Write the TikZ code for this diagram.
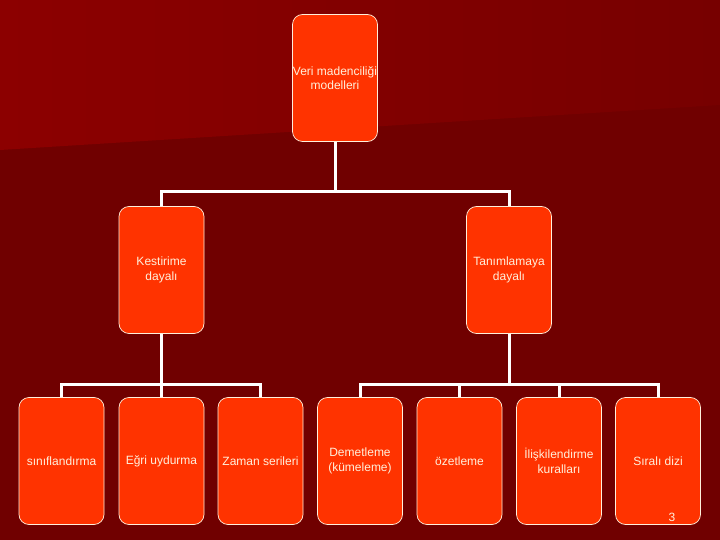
\documentclass[tikz,border=0pt]{standalone}
\usepackage{fontspec}
\setmainfont{Liberation Sans}
\usetikzlibrary{positioning, calc}
\definecolor{slide}{HTML}{700000}
\definecolor{slidehi}{HTML}{8C0000}
\definecolor{slidemid}{HTML}{770000}
\definecolor{boxfill}{HTML}{FF3300}
\definecolor{cream}{HTML}{FFF0DC}

\begin{document}
\begin{tikzpicture}[
  x=1pt, y=-1pt,
  box/.style={draw=cream, line width=0.7pt, fill=boxfill, rounded corners=10pt,
              minimum width=85pt, minimum height=127pt, inner sep=0pt,
              align=center, text=cream, font=\fontsize{12}{14.5}\selectfont},
  conn/.style={draw=white, line width=3pt},
  num/.style={text=cream, font=\fontsize{12}{14}\selectfont, inner sep=0pt}
]
\useasboundingbox (0,0) rectangle (720,540);
% slide background
\fill[slide] (0,0) rectangle (720,540);
\shade[left color=slidehi, right color=slidemid] (0,0) -- (720,0) -- (720,105) -- (0,150) -- cycle;

\node[box] (root) at (335,78) {Veri madenciliği\\ modelleri};
\node[box] (kest) at (161.5,270) {Kestirime\\ dayalı};
\node[box] (tanim) at (509,270) {Tanımlamaya\\ dayalı};

\node[box] (sinif) at (61.5,461) {sınıflandırma};
\node[box] (egri) at (161.5,461) {Eğri uydurma};
\node[box] (zaman) at (260.5,461) {Zaman serileri};
\node[box] (demet) at (360,461) {Demetleme\\ (kümeleme)};
\node[box] (ozet) at (459.5,461) {özetleme};
\node[box] (iliski) at (559,461) {İlişkilendirme\\ kuralları};
\node[box] (sirali) at (658,461) {Sıralı dizi};
\node[num] (pagenum) at (672,517) {3};

\coordinate (busA) at (0,192);
\coordinate (busB) at (0,384);
\draw[conn] (root.south) -- (root.south |- busA);
\draw[conn] (kest.north) |- (tanim.north |- busA) -- (tanim.north);
\draw[conn] (kest.south) -- (kest.south |- busB);
\draw[conn] (sinif.north) |- (zaman.north |- busB) -- (zaman.north);
\draw[conn] (egri.north) -- (egri.north |- busB);
\draw[conn] (tanim.south) -- (tanim.south |- busB);
\draw[conn] (demet.north) |- (sirali.north |- busB) -- (sirali.north);
\draw[conn] (ozet.north) -- (ozet.north |- busB);
\draw[conn] (iliski.north) -- (iliski.north |- busB);
\end{tikzpicture}
\end{document}
